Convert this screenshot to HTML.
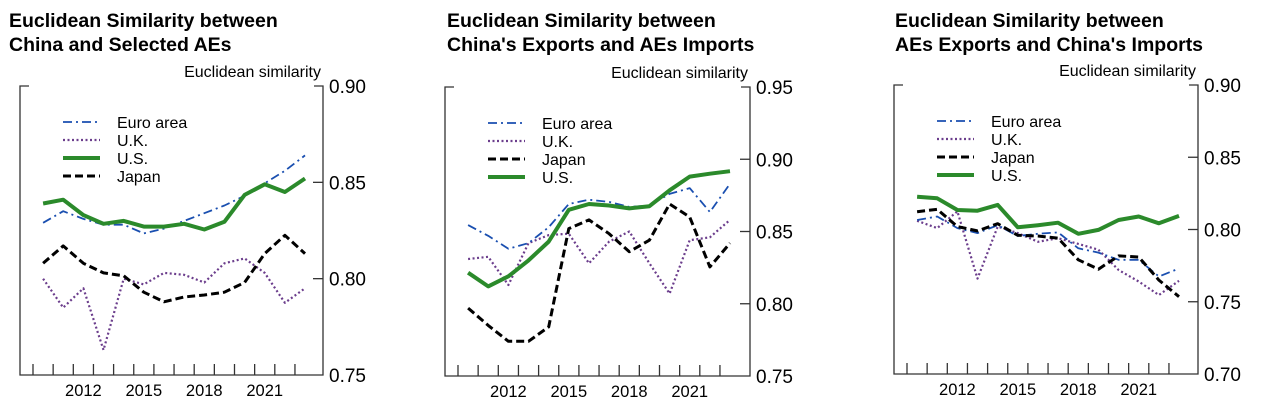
<!DOCTYPE html>
<html><head><meta charset="utf-8"><style>
body{margin:0;background:#fff;width:1266px;height:406px;overflow:hidden;font-family:"Liberation Sans",Arial,sans-serif}
svg{position:absolute;left:0;top:0}
</style></head><body>
<svg id="chart" width="1266" height="406" viewBox="0 0 1266 406"></svg>
<script>
const years=[2010,2011,2012,2013,2014,2015,2016,2017,2018,2019,2020,2021,2022,2023];
const yearLabels=[2012,2015,2018,2021];
const titles1=["Euclidean Similarity between","China and Selected AEs"];
const titles2=["Euclidean Similarity between","China's Exports and AEs Imports"];
const titles3=["Euclidean Similarity between","AEs Exports and China's Imports"];
const ticks1=[0.75,0.80,0.85,0.90];
const ticks2=[0.75,0.80,0.85,0.90,0.95];
const ticks3=[0.70,0.75,0.80,0.85,0.90];
const p1Euro=[0.829,0.835,0.831,0.828,0.828,0.8235,0.826,0.830,0.834,0.838,0.843,0.8495,0.856,0.864];
const p1UK=[0.800,0.785,0.795,0.763,0.800,0.797,0.803,0.802,0.798,0.808,0.8105,0.803,0.7875,0.795];
const p1US=[0.839,0.841,0.833,0.8285,0.830,0.827,0.827,0.8285,0.8255,0.8295,0.8435,0.849,0.845,0.852];
const p1Japan=[0.808,0.817,0.808,0.803,0.8015,0.793,0.788,0.7905,0.7915,0.793,0.798,0.813,0.8225,0.813];
const p2Euro=[0.8544,0.847,0.838,0.842,0.853,0.869,0.872,0.8705,0.867,0.868,0.876,0.880,0.8635,0.883];
const p2UK=[0.831,0.8325,0.813,0.842,0.8475,0.8485,0.828,0.843,0.850,0.828,0.807,0.844,0.846,0.858];
const p2Japan=[0.797,0.785,0.774,0.774,0.784,0.852,0.858,0.8485,0.836,0.844,0.869,0.860,0.8255,0.842];
const p2US=[0.8215,0.812,0.819,0.830,0.843,0.865,0.869,0.868,0.866,0.8675,0.8785,0.888,0.890,0.8917];
const p3Euro=[0.8066,0.809,0.801,0.7975,0.803,0.7955,0.797,0.798,0.787,0.784,0.779,0.779,0.7675,0.773];
const p3UK=[0.806,0.801,0.8125,0.766,0.802,0.7975,0.7915,0.794,0.790,0.786,0.772,0.764,0.7547,0.7645];
const p3Japan=[0.8123,0.814,0.802,0.799,0.804,0.796,0.7955,0.794,0.779,0.7725,0.7817,0.781,0.765,0.7535];
const p3US=[0.8227,0.8216,0.8135,0.813,0.817,0.8015,0.803,0.8047,0.797,0.7997,0.8066,0.809,0.8043,0.8094];

const S={
 euro:{c:"#1a4fb0",w:1.8,d:"9 4 2 4",name:"Euro area"},
 uk:{c:"#6b3d8c",w:2.2,d:"2 2.5",name:"U.K."},
 us:{c:"#2b8a2b",w:4,d:"",name:"U.S."},
 japan:{c:"#000",w:3,d:"8 4",name:"Japan"}
};
const svg=document.getElementById('chart');
const NS="http://www.w3.org/2000/svg";
function mk(tag,at,parent){const e=document.createElementNS(NS,tag);for(const k in at)e.setAttribute(k,at[k]);(parent||svg).appendChild(e);return e;}

function panel(id,L,R,T,B,tx,titles,ticks,series,order){
 const g=mk('g',{});
 
 
 const ymin=ticks[0],ymax=ticks[ticks.length-1];
 const firstTick=L+13, step=20.15;
 const xs=i=>firstTick+step*(i+0.5);
 const ys=v=>B-(v-ymin)/(ymax-ymin)*(B-T);
 titles.forEach((t,i)=>{const e=mk('text',{x:tx,y:27+i*24,'font-size':19.5,'font-weight':'bold',fill:'#000'},g);e.textContent=t;
  });
 const yl=mk('text',{x:R-2,y:T-9,'font-size':16,'text-anchor':'end',fill:'#000'},g);yl.textContent="Euclidean similarity";
 
 const ax=mk('path',{d:`M${L+9},${T}H${L}V${B}H${R}V${T}H${R-9}`,fill:'none',stroke:'#333','stroke-width':1.3},g);
 
 ticks.forEach(v=>{const y=ys(v);
  if(v!==ymin&&v!==ymax)mk('line',{x1:R-10,x2:R,y1:y,y2:y,stroke:'#333','stroke-width':1.3},g);
  const t=mk('text',{x:R+6,y:y+7,'font-size':19,fill:'#000'},g);t.textContent=v.toFixed(2);
  });
 for(let i=0;i<years.length;i++){const x=firstTick+step*i;mk('line',{x1:x,x2:x,y1:B-11,y2:B,stroke:'#333','stroke-width':1.3},g);}
 yearLabels.forEach(yr=>{const i=years.indexOf(yr);const t=mk('text',{x:xs(i),y:B+21,'font-size':16.5,'text-anchor':'middle',fill:'#000'},g);t.textContent=yr;
  });
 order.forEach((k,j)=>{const s=S[k];const ly=T+36+j*18;
  const ln=mk('line',{x1:L+43,x2:L+80,y1:ly,y2:ly,stroke:s.c,'stroke-width':s.w,'stroke-dasharray':s.d},g);
  
  const t=mk('text',{x:L+97,y:ly+6,'font-size':16,fill:'#000'},g);t.textContent=s.name;
  });
 ['uk','euro','japan','us'].forEach(k=>{const vals=series[k];
  const d=vals.map((v,i)=>(i?'L':'M')+xs(i).toFixed(1)+','+ys(v).toFixed(1)).join('');
  const p=mk('path',{d:d,fill:'none',stroke:S[k].c,'stroke-width':S[k].w,'stroke-dasharray':S[k].d,'stroke-linejoin':'round'},g);
  });
}
panel('panel-china-aes',20,323,86,375,9,titles1,ticks1,{euro:p1Euro,uk:p1UK,us:p1US,japan:p1Japan},['euro','uk','us','japan']);
panel('panel-china-exports',445,750,87,376,447,titles2,ticks2,{euro:p2Euro,uk:p2UK,us:p2US,japan:p2Japan},['euro','uk','japan','us']);
panel('panel-aes-exports',894,1198,85,374,895,titles3,ticks3,{euro:p3Euro,uk:p3UK,us:p3US,japan:p3Japan},['euro','uk','japan','us']);
</script>
</body></html>
